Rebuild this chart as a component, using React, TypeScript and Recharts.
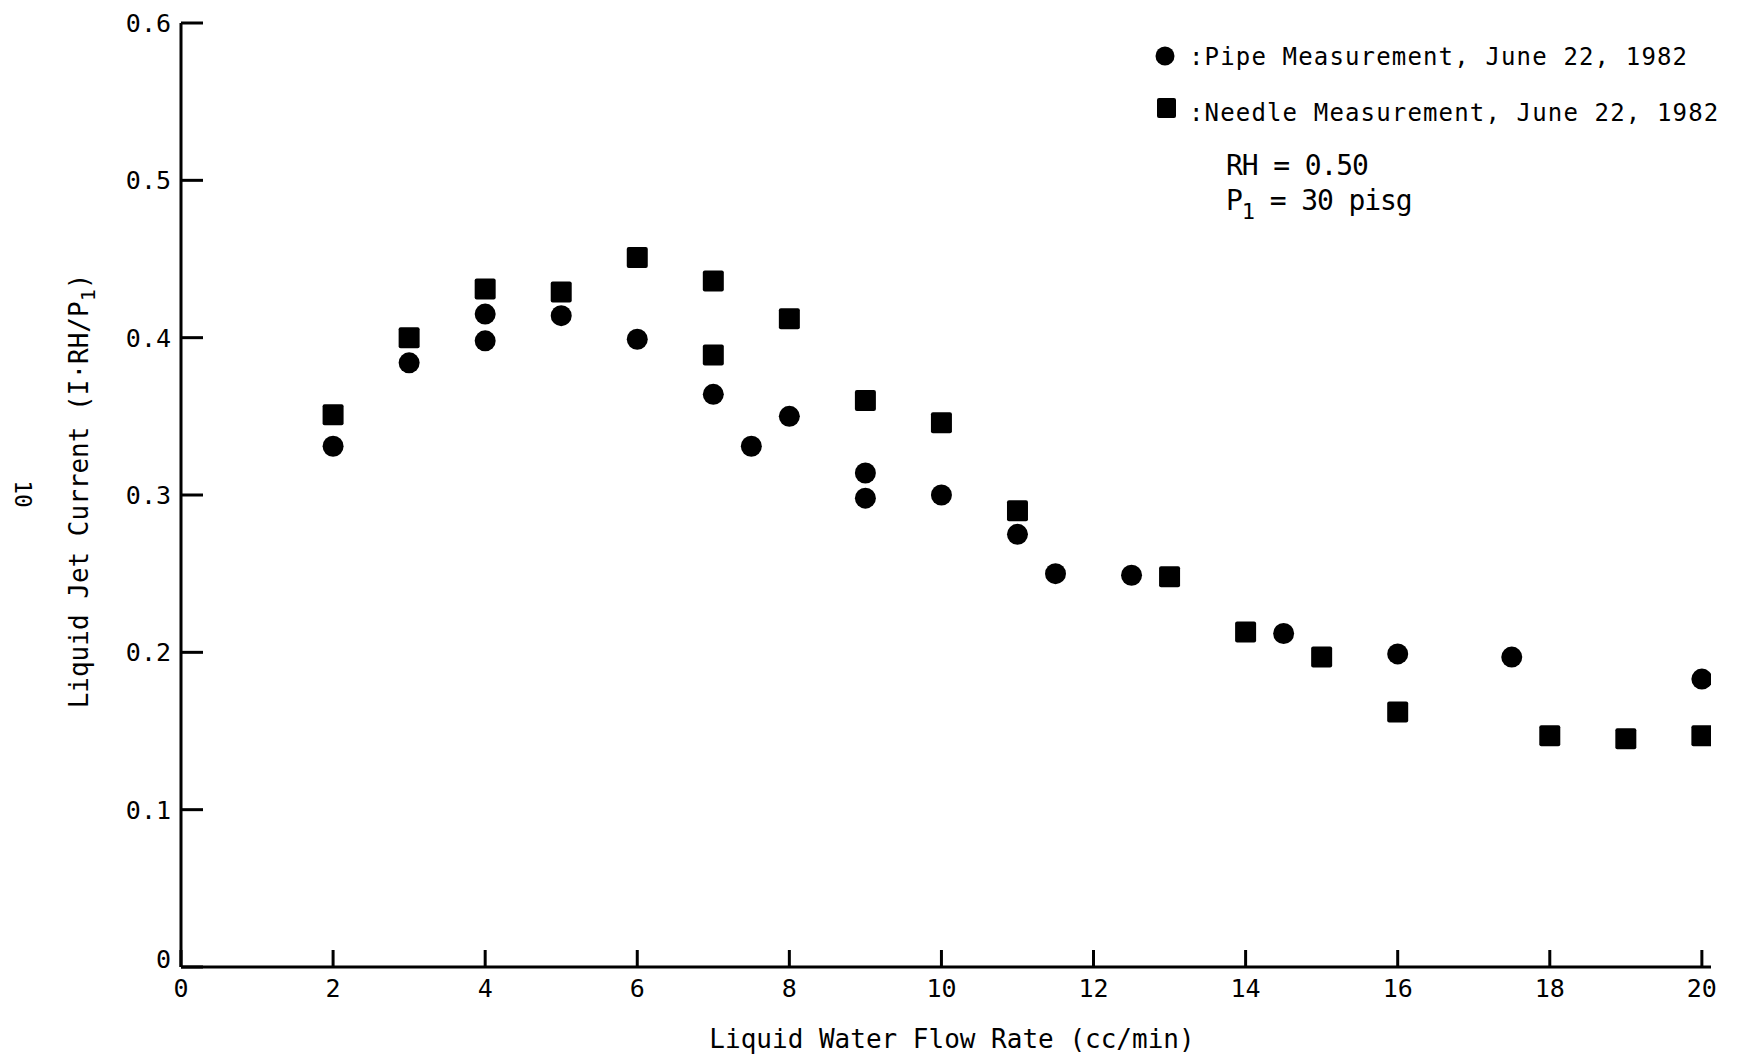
import React from 'react';
import { Label, Legend, Scatter, ScatterChart, XAxis, YAxis } from 'recharts';

// Pipe measurement (circles)
const pipeX = [2, 3, 4, 4, 5, 6, 7, 7.5, 8, 9, 9, 10, 11, 11.5, 12.5, 14.5, 16, 17.5, 20];
const pipeY = [0.331, 0.384, 0.415, 0.398, 0.414, 0.399, 0.364, 0.331, 0.35, 0.314, 0.298, 0.3, 0.275, 0.25, 0.249, 0.212, 0.199, 0.197, 0.183];

// Needle measurement (squares)
const needleX = [2, 3, 4, 5, 6, 7, 7, 8, 9, 10, 11, 13, 14, 15, 16, 18, 19, 20];
const needleY = [0.351, 0.4, 0.431, 0.429, 0.451, 0.436, 0.389, 0.412, 0.36, 0.346, 0.29, 0.248, 0.213, 0.197, 0.162, 0.147, 0.145, 0.147];

const xTicks = [0, 2, 4, 6, 8, 10, 12, 14, 16, 18, 20];
const yTicks = [0, 0.1, 0.2, 0.3, 0.4, 0.5, 0.6];

const pipeData = pipeX.map((x, i) => ({ x, y: pipeY[i] }));
const needleData = needleX.map((x, i) => ({ x, y: needleY[i] }));

const FONT = '"DejaVu Sans Mono", monospace';
const INK = '#000';

const CircleDot = (props: any) => <circle cx={props.cx} cy={props.cy} r={10.5} fill={INK} />;
const SquareDot = (props: any) => (
  <rect x={props.cx - 10.5} y={props.cy - 10.5} width={21} height={21} rx={2} fill={INK} />
);

// ticks point into the plot, labels sit outside
const YTick = (props: any) => {
  const { x, y, payload } = props;
  const ax = x + 10;
  const shift = payload.value === 0 ? -8 : 0;
  return (
    <g>
      <line x1={ax} x2={ax + 22} y1={y} y2={y} stroke={INK} strokeWidth={3} />
      <text x={ax - 10} y={y + 9 + shift} textAnchor="end" fontFamily={FONT} fontSize={25} fill={INK}>
        {payload.value === 0 ? '0' : payload.value.toFixed(1)}
      </text>
    </g>
  );
};

const XTick = (props: any) => {
  const { x, y, payload } = props;
  const ay = y - 10;
  return (
    <g>
      <line x1={x} x2={x} y1={ay} y2={ay - 17} stroke={INK} strokeWidth={3} />
      <text x={x} y={ay + 30} textAnchor="middle" fontFamily={FONT} fontSize={25} fill={INK}>
        {payload.value}
      </text>
    </g>
  );
};

const XTitle = () => (
  <text x={952} y={1048} textAnchor="middle" fontFamily={FONT} fontSize={26} fill={INK}>
    Liquid Water Flow Rate (cc/min)
  </text>
);

const YTitle = () => (
  <g>
    <text
      x={88}
      y={491}
      transform="rotate(-90, 88, 491)"
      textAnchor="middle"
      fontFamily={FONT}
      fontSize={26}
      fill={INK}
    >
      Liquid Jet Current (I·RH/P
      <tspan dy={7} fontSize={20}>1</tspan>
      <tspan dy={-7}>)</tspan>
    </text>
    <text x={23} y={502} transform="rotate(90, 23, 494)" textAnchor="middle" fontFamily={FONT} fontSize={23} fill={INK}>
      10
    </text>
  </g>
);

const LegendBox = () => (
  <svg width={600} height={240} style={{ display: 'block' }}>
    <g transform="translate(-1140, 0)" fill={INK} fontFamily={FONT}>
      <circle cx={1165} cy={56} r={9.5} />
      <text x={1189} y={65} fontSize={24} letterSpacing={1.15}>:Pipe Measurement, June 22, 1982</text>
      <rect x={1157} y={98} width={19} height={20} rx={2} />
      <text x={1189} y={121} fontSize={24} letterSpacing={1.15}>:Needle Measurement, June 22, 1982</text>
      <text x={1226} y={175} fontSize={28} letterSpacing={-1.1}>RH = 0.50</text>
      <text x={1226} y={210} fontSize={28} letterSpacing={-1.1}>
        P<tspan dy={9} fontSize={22}>1</tspan>
        <tspan dy={-9}> = 30 pisg</tspan>
      </text>
    </g>
  </svg>
);

export default function App() {
  return (
    <div style={{ position: 'absolute', left: 0, top: 0, background: '#fff' }}>
      <ScatterChart width={1740} height={1058} margin={{ top: 23, right: 29, bottom: 0, left: 100 }}>
        <XAxis
          type="number"
          dataKey="x"
          domain={[0, 20.12]}
          ticks={xTicks}
          allowDataOverflow
          height={91}
          tickSize={0}
          tickMargin={10}
          tick={<XTick />}
          axisLine={{ stroke: INK, strokeWidth: 3 }}
          tickLine={false}
        >
          <Label content={<XTitle />} />
        </XAxis>
        <YAxis
          type="number"
          dataKey="y"
          domain={[0, 0.6]}
          ticks={yTicks}
          width={81}
          tickSize={0}
          tickMargin={10}
          tick={<YTick />}
          axisLine={{ stroke: INK, strokeWidth: 3 }}
          tickLine={false}
        >
          <Label content={<YTitle />} />
        </YAxis>
        <Legend
          verticalAlign="middle"
          align="center"
          layout="horizontal"
          wrapperStyle={{ left: 1140, top: 0, width: 600 }}
          content={<LegendBox />}
        />
        <Scatter name="Pipe" data={pipeData} shape={<CircleDot />} isAnimationActive={false} />
        <Scatter name="Needle" data={needleData} shape={<SquareDot />} isAnimationActive={false} />
      </ScatterChart>
    </div>
  );
}
